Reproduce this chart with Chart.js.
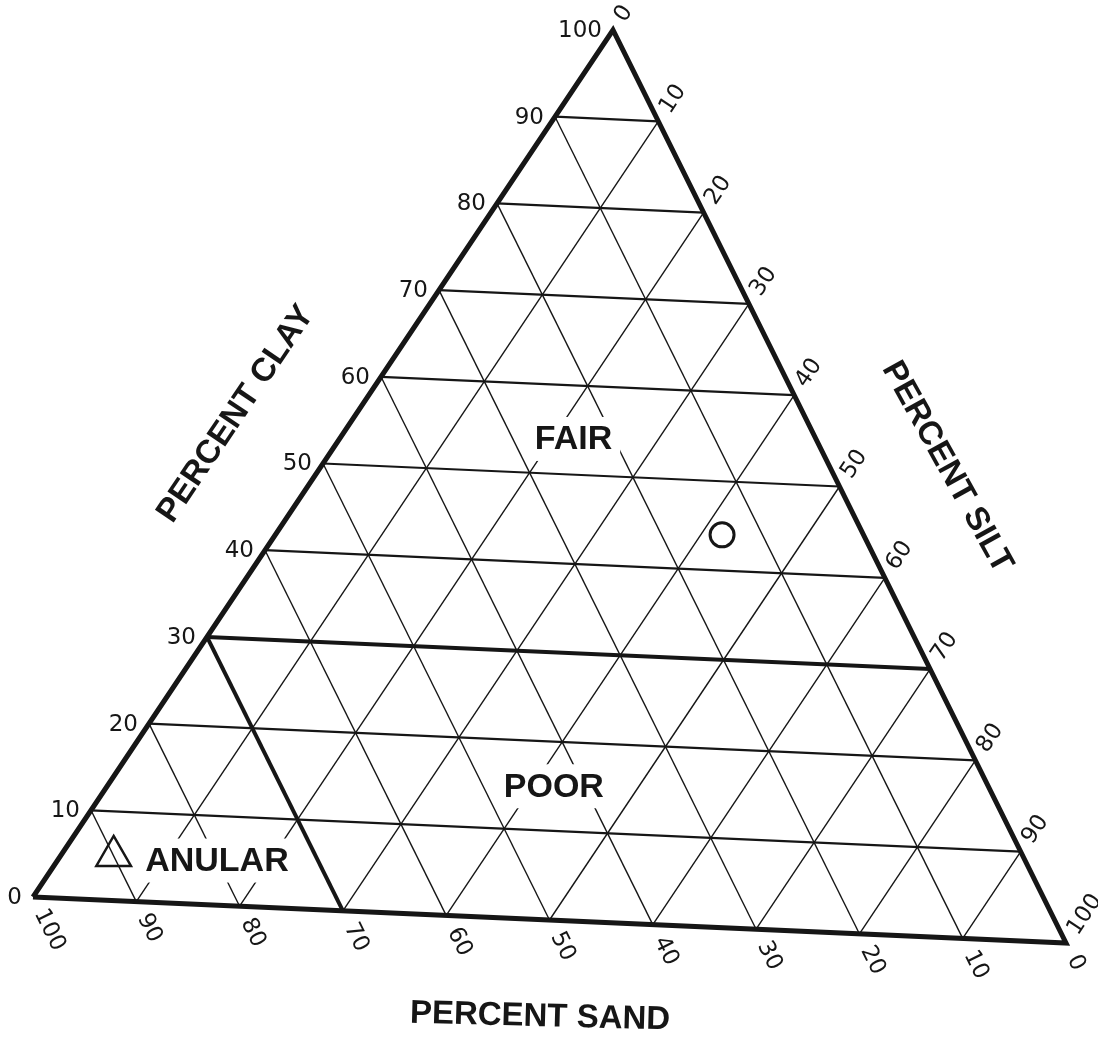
<!DOCTYPE html>
<html>
<head>
<meta charset="utf-8">
<title>Percent clay / silt / sand triangle</title>
<script src="https://cdn.jsdelivr.net/npm/chart.js@4.4.1/dist/chart.umd.min.js"></script>
<style>
    html, body { margin: 0; padding: 0; background: #fff; }
    canvas { display: block; }
</style>
</head>
<body>
<canvas id="textureChart" width="1098" height="1044"></canvas>
<script>
// Ternary data (percent)
const gridValues = [10, 20, 30, 40, 50, 60, 70, 80, 90];
const heavyClayLines = [30];
const heavySandLines = [70];
const tickValues = [0, 10, 20, 30, 40, 50, 60, 70, 80, 90, 100];

// Region labels, placed by composition
const regionNames = ['FAIR', 'POOR', 'ANULAR'];
const regionSand = [24, 43, 80];
const regionSilt = [22, 42, 15];
const regionClay = [54, 15, 5];

// Plotted samples: circle and triangle
const sampleSand = [14, 90];
const sampleSilt = [42, 5];
const sampleClay = [44, 5];

const axisTitles = ['PERCENT CLAY', 'PERCENT SILT', 'PERCENT SAND'];

// Layout
const W = 1098, H = 1044;
const INK = '#161616';
// triangle corners in axis units (x right, y down)
const SAND_CORNER = [33, 897];
const SILT_CORNER = [1066, 943];
const CLAY_CORNER = [613, 30];
// axis title centres and angles (degrees)
const titlePlaces = [
    { x: 236, y: 414, angle: -56 },
    { x: 947, y: 467, angle: 61 },
    { x: 540, y: 1017, angle: 1.5 }
];
const tickFont = '23px "DejaVu Sans"';
const titleFont = 'bold 33px "Liberation Sans"';
const regionFont = 'bold 34px "Liberation Sans"';

// Convert a composition into axis units
function toXY(sand, silt, clay) {
    const t = sand + silt + clay;
    return {
        x: (sand * SAND_CORNER[0] + silt * SILT_CORNER[0] + clay * CLAY_CORNER[0]) / t,
        y: (sand * SAND_CORNER[1] + silt * SILT_CORNER[1] + clay * CLAY_CORNER[1]) / t
    };
}

function lineSet(points, width) {
    return {
        data: points,
        showLine: true,
        borderColor: INK,
        borderWidth: width,
        pointRadius: 0,
        fill: false,
        tension: 0
    };
}

// Datasets: earlier entries are drawn on top
const datasets = [];

datasets.push({
    label: 'Sample O',
    data: [toXY(sampleSand[0], sampleSilt[0], sampleClay[0])],
    pointStyle: 'circle',
    pointRadius: 12,
    borderColor: INK,
    borderWidth: 3,
    backgroundColor: 'rgba(0,0,0,0)'
});
datasets.push({
    label: 'Sample triangle',
    data: [toXY(sampleSand[1], sampleSilt[1], sampleClay[1])],
    pointStyle: 'triangle',
    pointRadius: 20,
    borderColor: INK,
    borderWidth: 2.5,
    backgroundColor: 'rgba(0,0,0,0)'
});

// Outer frame
const frame = lineSet([
    toXY(100, 0, 0), toXY(0, 100, 0), toXY(0, 0, 100), toXY(100, 0, 0)
], 5);
frame.isFrame = true;
datasets.push(frame);

// Heavy boundary lines
heavyClayLines.forEach(c => {
    datasets.push(lineSet([toXY(100 - c, 0, c), toXY(0, 100 - c, c)], 4));
});
heavySandLines.forEach(s => {
    datasets.push(lineSet([toXY(s, 100 - s, 0), toXY(s, 0, 100 - s)], 4));
});

// Grid
gridValues.forEach(v => {
    datasets.push(lineSet([toXY(100 - v, 0, v), toXY(0, 100 - v, v)], 2.2)); // clay
    datasets.push(lineSet([toXY(v, 100 - v, 0), toXY(v, 0, 100 - v)], 1.4)); // sand
    datasets.push(lineSet([toXY(100 - v, v, 0), toXY(0, v, 100 - v)], 1.4)); // silt
});

function toPixel(chart, pt) {
    return {
        x: chart.scales.x.getPixelForValue(pt.x),
        y: chart.scales.y.getPixelForValue(pt.y)
    };
}

function drawText(ctx, text, x, y, angle, align) {
    ctx.save();
    ctx.translate(x, y);
    ctx.rotate(angle);
    ctx.textAlign = align;
    ctx.textBaseline = 'middle';
    ctx.fillText(text, 0, 0);
    ctx.restore();
}

const paperPlugin = {
    id: 'paper',
    beforeDraw(chart) {
        const ctx = chart.ctx;
        ctx.save();
        ctx.fillStyle = '#fff';
        ctx.fillRect(0, 0, chart.width, chart.height);
        ctx.restore();
    },
    // white boxes behind the region names break the grid lines
    afterDatasetDraw(chart, args) {
        if (!chart.data.datasets[args.index].isFrame) return;
        const ctx = chart.ctx;
        ctx.save();
        ctx.font = regionFont;
        ctx.fillStyle = '#fff';
        regionNames.forEach((name, i) => {
            const p = toPixel(chart, toXY(regionSand[i], regionSilt[i], regionClay[i]));
            const w = ctx.measureText(name).width;
            ctx.fillRect(p.x - w / 2 - 8, p.y - 22, w + 16, 44);
        });
        ctx.restore();
    },
    afterDatasetsDraw(chart) {
        const ctx = chart.ctx;
        ctx.save();
        ctx.fillStyle = INK;

        // region names
        ctx.font = regionFont;
        regionNames.forEach((name, i) => {
            const p = toPixel(chart, toXY(regionSand[i], regionSilt[i], regionClay[i]));
            drawText(ctx, name, p.x, p.y + 1, 0, 'center');
        });

        const sandP = toPixel(chart, toXY(100, 0, 0));
        const siltP = toPixel(chart, toXY(0, 100, 0));
        const clayP = toPixel(chart, toXY(0, 0, 100));
        // sand lines run parallel to the right edge, silt lines to the left edge
        const sandDir = Math.atan2(siltP.y - clayP.y, siltP.x - clayP.x);
        const siltDir = Math.atan2(clayP.y - sandP.y, clayP.x - sandP.x);

        ctx.font = tickFont;
        tickValues.forEach(v => {
            // clay, left edge
            const c = toPixel(chart, toXY(100 - v, 0, v));
            drawText(ctx, String(v), c.x - 11, c.y + 1, 0, 'right');
            // sand, bottom edge
            const s = toPixel(chart, toXY(v, 100 - v, 0));
            drawText(ctx, String(v), s.x + Math.cos(sandDir) * 15, s.y + Math.sin(sandDir) * 15, sandDir, 'left');
            // silt, right edge
            const t = toPixel(chart, toXY(0, v, 100 - v));
            drawText(ctx, String(v), t.x + Math.cos(siltDir) * 12, t.y + Math.sin(siltDir) * 12, siltDir, 'left');
        });

        // axis titles
        ctx.font = titleFont;
        axisTitles.forEach((title, i) => {
            const pl = titlePlaces[i];
            const p = toPixel(chart, pl);
            drawText(ctx, title, p.x, p.y, pl.angle * Math.PI / 180, 'center');
        });
        ctx.restore();
    }
};

new Chart(document.getElementById('textureChart'), {
    type: 'scatter',
    data: { datasets: datasets },
    options: {
        responsive: false,
        devicePixelRatio: 1,
        animation: false,
        events: [],
        layout: { padding: 0, autoPadding: false },
        plugins: {
            legend: { display: false },
            tooltip: { enabled: false }
        },
        scales: {
            x: { type: 'linear', min: 0, max: W, display: false },
            y: { type: 'linear', min: 0, max: H, reverse: true, display: false }
        }
    },
    plugins: [paperPlugin]
});
</script>
</body>
</html>
